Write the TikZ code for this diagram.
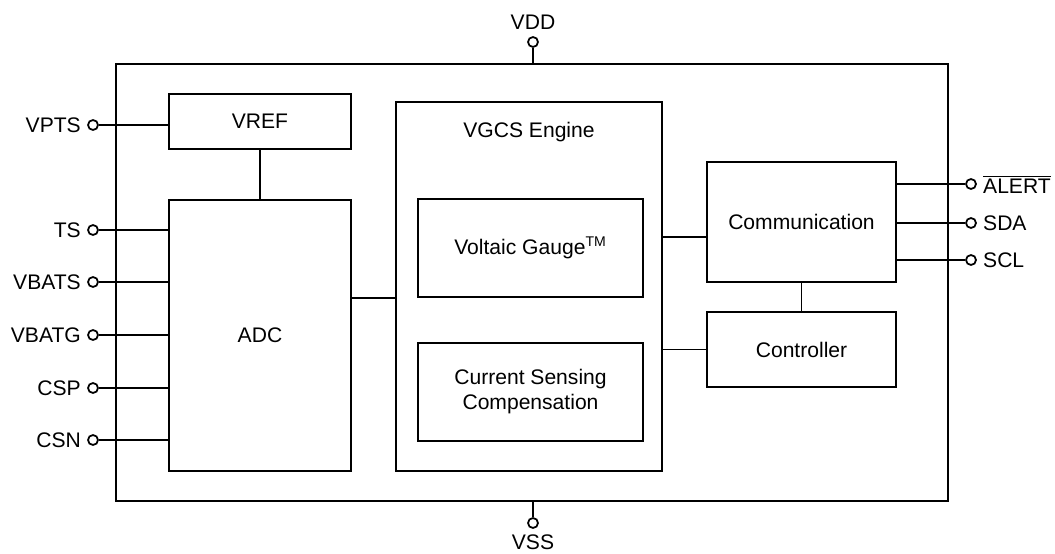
\documentclass[tikz,border=0pt]{standalone}
\usepackage{fontspec}
\setmainfont{Liberation Sans}
\usepackage{tikz}

\begin{document}
\begin{tikzpicture}[
  x=0.02cm, y=-0.02cm,
  font=\fontsize{12}{14.2}\selectfont,
  box/.style={draw, line width=1.1pt, inner sep=2pt, align=center},
  pin/.style={circle, draw, line width=1pt, fill=white, minimum size=0.2cm, inner sep=0pt},
  pinlbl/.style={inner sep=2pt},
  wire/.style={line width=1.1pt},
  label distance=1.4pt,
]
  \useasboundingbox (0,0) rectangle (1055,554);

  % Chip outline
  \node[box, minimum width=16.64cm, minimum height=8.74cm] (chip) at (532,282.5) {};

  % Blocks
  \node[box, minimum width=3.64cm, minimum height=1.1cm] (vref) at (260,121.5) {VREF};
  \node[box, minimum width=3.64cm, minimum height=5.42cm] (adc) at (260,335.5) {ADC};
  \node[box, minimum width=5.32cm, minimum height=7.38cm] (vgcs) at (529,286.5) {};
  \node (vgcslbl) at (529,132) {VGCS Engine};
  \node[box, minimum width=4.5cm, minimum height=1.96cm] (gauge) at (530.5,248)
    {Voltaic Gauge\textsuperscript{TM}};
  \node[box, minimum width=4.5cm, minimum height=1.96cm] (csc) at (530.5,392)
    {Current Sensing\\Compensation};
  \node[box, minimum width=3.78cm, minimum height=2.4cm] (comm) at (801.5,222) {Communication};
  \node[box, minimum width=3.78cm, minimum height=1.5cm] (ctrl) at (801.5,349.5) {Controller};

  % Supply pins
  \node[pin, label={[pinlbl]above:VDD}] (vdd) at (533,42) {};
  \node[pin, label={[pinlbl]below:VSS}] (vss) at (533,523) {};
  \draw[wire] (vdd) -- (vdd |- chip.north);
  \draw[wire] (vss) -- (vss |- chip.south);

  % Left pins
  \foreach \name/\txt/\y in {vpts/VPTS/125, ts/TS/230, vbats/VBATS/282,
                             vbatg/VBATG/335, csp/CSP/388, csn/CSN/440}
    \node[pin, label={[pinlbl]left:\txt}] (\name) at (93,\y) {};
  \draw[wire] (vpts) -- (vpts -| vref.west);
  \foreach \name in {ts, vbats, vbatg, csp, csn}
    \draw[wire] (\name) -- (\name -| adc.west);

  % Right pins
  \foreach \name/\txt/\y in {alert/{$\overline{\hbox{ALERT}}$}/184, sda/SDA/223, scl/SCL/260}
    \node[pin, label={[pinlbl]right:\txt}] (\name) at (971,\y) {};
  \foreach \name in {alert, sda, scl}
    \draw[wire] (\name) -- (\name -| comm.east);

  % Internal links
  \coordinate (commin) at ([yshift=-0.3cm]comm.west);
  \draw[wire] (vref) -- (adc);
  \draw[wire] (adc.east |- gauge.south) -- (vgcs.west |- gauge.south);
  \draw[wire] (vgcs.east |- commin) -- (commin);
  \draw[wire] (vgcs.east |- ctrl.west) -- (ctrl.west);
  \draw[wire] (comm) -- (ctrl);
\end{tikzpicture}
\end{document}
